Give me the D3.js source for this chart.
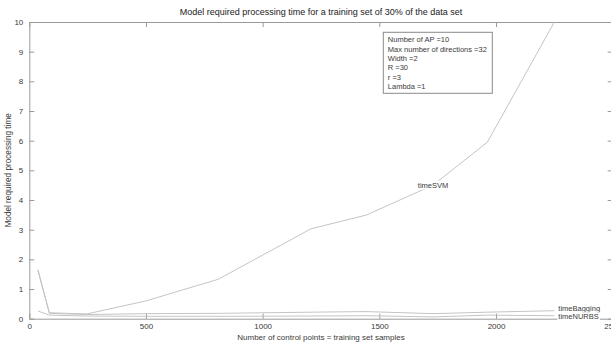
<!DOCTYPE html>
<html>
<head>
<meta charset="utf-8">
<script src="https://cdn.jsdelivr.net/npm/d3@7/dist/d3.min.js"></script>
<style>
  html, body { margin: 0; padding: 0; background: #fff; }
  svg { display: block; font-family: "Liberation Sans", Arial, sans-serif; }
</style>
</head>
<body>
<svg id="chart" width="611" height="345"></svg>
<script>
// Training set sizes (number of control points)
const samples = [37, 86, 246, 500, 810, 1207, 1443, 1730, 1963, 2250];

// Processing time per model
const timeSVM     = [1.66, 0.20, 0.16, 0.60, 1.33, 3.03, 3.49, 4.50, 5.95, 10.0];
const timeBagging = [1.62, 0.18, 0.14, 0.17, 0.18, 0.22, 0.24, 0.17, 0.22, 0.27];
const timeNURBS   = [0.26, 0.12, 0.09, 0.08, 0.08, 0.09, 0.10, 0.06, 0.12, 0.10];

const xTicks = [0, 500, 1000, 1500, 2000, 2500];
const yTicks = [0, 1, 2, 3, 4, 5, 6, 7, 8, 9, 10];

const infoLines = [
  "Number of AP =10",
  "Max number of directions =32",
  "Width =2",
  "R =30",
  "r =3",
  "Lambda =1"
];

const series = [
  { name: "timeSVM", values: timeSVM, labelIndex: 7, anchor: "middle", dx: 0, dy: 0 },
  { name: "timeBagging", values: timeBagging, labelIndex: 9, anchor: "start", dx: 4, dy: -2 },
  { name: "timeNURBS", values: timeNURBS, labelIndex: 9, anchor: "start", dx: 4, dy: 1 }
];

const W = 611, H = 345;
const plot = { left: 29.3, right: 612.7, top: 22, bottom: 318.7 };

const svg = d3.select("#chart");
const x = d3.scaleLinear().domain([0, 2500]).range([plot.left, plot.right]);
const y = d3.scaleLinear().domain([0, 10]).range([plot.bottom, plot.top]);

const axisColor = "#9a9a9a";
const textColor = "#3a3a3a";
const lineColor = "#c4c4c4";

svg.append("defs").append("clipPath").attr("id", "plotClip")
  .append("rect")
  .attr("x", plot.left).attr("y", plot.top)
  .attr("width", plot.right - plot.left).attr("height", plot.bottom - plot.top);

// Axes: bottom/left with labels, top/right ticks only (boxed frame)
function styleAxis(g) {
  g.select(".domain").attr("stroke", axisColor).attr("stroke-width", 1);
  g.selectAll(".tick line").attr("stroke", axisColor);
  g.selectAll(".tick text").attr("fill", textColor).attr("font-size", 8);
}

svg.append("g")
  .attr("transform", `translate(0,${plot.bottom})`)
  .call(d3.axisBottom(x).tickValues(xTicks).tickSize(-5).tickSizeOuter(0).tickPadding(4.5).tickFormat(d3.format("d")))
  .call(styleAxis);

svg.append("g")
  .attr("transform", `translate(0,${plot.top})`)
  .call(d3.axisTop(x).tickValues(xTicks).tickSize(-5).tickSizeOuter(0).tickFormat(""))
  .call(styleAxis);

svg.append("g")
  .attr("transform", `translate(${plot.left},0)`)
  .call(d3.axisLeft(y).tickValues(yTicks).tickSize(-5).tickSizeOuter(0).tickPadding(6).tickFormat(d3.format("d")))
  .call(styleAxis);

svg.append("g")
  .attr("transform", `translate(${plot.right},0)`)
  .call(d3.axisRight(y).tickValues(yTicks).tickSize(-5).tickSizeOuter(0).tickFormat(""))
  .call(styleAxis);

// Lines
const line = d3.line()
  .x((d, i) => x(samples[i]))
  .y(d => y(d));

const linesG = svg.append("g").attr("clip-path", "url(#plotClip)");
series.forEach(s => {
  linesG.append("path")
    .datum(s.values)
    .attr("fill", "none")
    .attr("stroke", lineColor)
    .attr("stroke-width", 1)
    .attr("d", line);
});

// Series labels with white background
const labelsG = svg.append("g");
series.forEach(s => {
  const g = labelsG.append("g");
  const t = g.append("text")
    .attr("x", x(samples[s.labelIndex]) + s.dx)
    .attr("y", y(s.values[s.labelIndex]) + s.dy)
    .attr("text-anchor", s.anchor)
    .attr("dominant-baseline", "central")
    .attr("font-size", 7.5)
    .attr("fill", textColor)
    .text(s.name);
  const bb = t.node().getBBox();
  g.insert("rect", "text")
    .attr("x", bb.x - 1).attr("y", bb.y)
    .attr("width", bb.width + 2).attr("height", bb.height)
    .attr("fill", "#fff");
});

// Parameter box
const boxX = 383.3, boxY = 32.3, boxW = 109, boxH = 61;
svg.append("rect")
  .attr("x", boxX).attr("y", boxY).attr("width", boxW).attr("height", boxH)
  .attr("fill", "#fff").attr("stroke", "#8a8a8a").attr("stroke-width", 1);
svg.append("g").selectAll("text")
  .data(infoLines)
  .join("text")
  .attr("x", boxX + 4.5)
  .attr("y", (d, i) => boxY + 7.3 + i * 9.4)
  .attr("dominant-baseline", "central")
  .attr("font-size", 7.5)
  .attr("fill", textColor)
  .text(d => d);

// Title and axis labels
svg.append("text")
  .attr("x", (plot.left + plot.right) / 2)
  .attr("y", 15)
  .attr("text-anchor", "middle")
  .attr("font-size", 9)
  .attr("fill", "#222")
  .text("Model required processing time for a training set of 30% of the data set");

svg.append("text")
  .attr("x", (plot.left + plot.right) / 2)
  .attr("y", 339.5)
  .attr("text-anchor", "middle")
  .attr("font-size", 8)
  .attr("fill", textColor)
  .text("Number of control points = training set samples");

svg.append("text")
  .attr("transform", `translate(11,${(plot.top + plot.bottom) / 2}) rotate(-90)`)
  .attr("text-anchor", "middle")
  .attr("font-size", 8.2)
  .attr("fill", textColor)
  .text("Model required processing time");
</script>
</body>
</html>
